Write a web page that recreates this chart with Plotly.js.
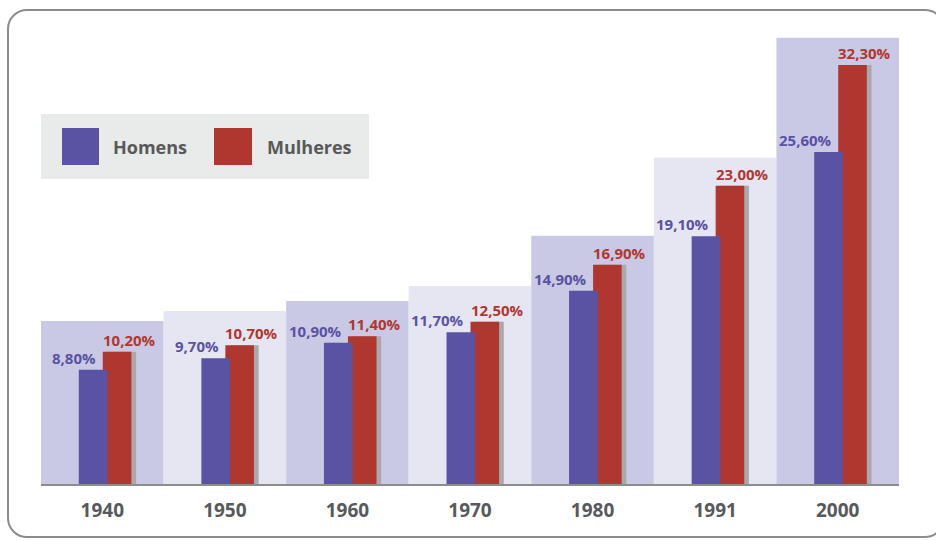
<!DOCTYPE html>
<html>
<head>
<meta charset="utf-8">
<script src="https://cdn.plot.ly/plotly-3.0.1.min.js"></script>
<style>
  html, body { margin: 0; padding: 0; background: #ffffff; overflow: hidden; }
  #wrap { position: relative; width: 936px; height: 541px; overflow: hidden; }
  #frame { position: absolute; left: 7px; top: 9px; width: 938px; height: 529px;
           border: 2px solid #8c8c8c; border-radius: 20px; box-sizing: border-box; pointer-events: none; }
  #chart { position: absolute; left: 0; top: 0; width: 936px; height: 541px; }
</style>
</head>
<body>
<div id="wrap">
  <div id="chart"></div>
  <div id="frame"></div>
</div>
<script>
// ---- data ----
const anos = ['1940', '1950', '1960', '1970', '1980', '1991', '2000'];
const homens = [8.8, 9.7, 10.9, 11.7, 14.9, 19.1, 25.6];
const mulheres = [10.2, 10.7, 11.4, 12.5, 16.9, 23.0, 32.3];
const faixa = [12.57, 13.34, 14.11, 15.27, 19.14, 25.16, 34.41];
const series = ['Homens', 'Mulheres'];

// ---- style ----
const W = 936, H = 541;
const M = { l: 41, r: 37, t: 20, b: 57 };
const pxCat = (W - M.l - M.r) / anos.length;
const plotH = H - M.t - M.b;
const pxUnit = 12.97;
const yMax = plotH / pxUnit;

const cBlue = '#5a52a2', cRed = '#b0372f', cShadow = '#a9a9ab';
const cDark = '#c9c9e6', cLight = '#e6e6f2';
const bw = 28.6 / pxCat;          // bar width in category units
const boBlue = -23.5 / pxCat;     // blue bar left edge offset
const boRed = 0.5 / pxCat;        // red bar left edge offset
const boShadow = boRed + 4.7 / pxCat;
const fontFam = '"Open Sans", "Noto Sans", sans-serif';

const fmt = v => v.toFixed(2).replace('.', ',') + '%';

const traces = [
  { type: 'bar', x: anos, y: faixa, width: 1, offset: -0.5,
    marker: { color: anos.map((_, i) => i % 2 === 0 ? cDark : cLight), line: { width: 0 } },
    showlegend: false, hoverinfo: 'skip' },
  { type: 'bar', x: anos, y: mulheres, width: bw, offset: boShadow,
    marker: { color: cShadow, line: { width: 0 } }, showlegend: false, hoverinfo: 'skip' },
  { type: 'bar', name: series[1], x: anos, y: mulheres, width: bw, offset: boRed,
    marker: { color: cRed, line: { width: 0 } }, showlegend: false },
  { type: 'bar', name: series[0], x: anos, y: homens, width: bw, offset: boBlue,
    marker: { color: cBlue, line: { width: 0 } }, showlegend: false }
];

const annotations = [];
anos.forEach((a, i) => {
  annotations.push({
    x: i, y: homens[i], xref: 'x', yref: 'y', text: fmt(homens[i]), showarrow: false,
    xanchor: 'right', yanchor: 'bottom', xshift: (boBlue + bw) * pxCat - 9, yshift: 0,
    font: { family: fontFam, size: 15, weight: 'bold', color: cBlue }
  });
  annotations.push({
    x: i, y: mulheres[i], xref: 'x', yref: 'y', text: fmt(mulheres[i]), showarrow: false,
    xanchor: 'left', yanchor: 'bottom', xshift: boRed * pxCat - 2, yshift: 0,
    font: { family: fontFam, size: 15, weight: 'bold', color: cRed }
  });
});

// legend drawn as shapes + text (pixel -> paper)
const plotW = W - M.l - M.r;
const px = v => (v - M.l) / plotW;
const py = v => (H - M.b - v) / plotH;
const shapes = [
  { type: 'rect', xref: 'paper', yref: 'paper', x0: px(41), x1: px(369), y0: py(179), y1: py(114),
    fillcolor: '#e9eaea', line: { width: 0 }, layer: 'above' },
  { type: 'rect', xref: 'paper', yref: 'paper', x0: px(62), x1: px(99), y0: py(165), y1: py(128),
    fillcolor: cBlue, line: { width: 0 }, layer: 'above' },
  { type: 'rect', xref: 'paper', yref: 'paper', x0: px(214), x1: px(252), y0: py(165), y1: py(128),
    fillcolor: cRed, line: { width: 0 }, layer: 'above' }
];
annotations.push({ xref: 'paper', yref: 'paper', x: px(111), y: py(147), xanchor: 'left', yanchor: 'middle',
  text: series[0], showarrow: false, font: { family: fontFam, size: 18, weight: 'bold', color: '#58595b' } });
annotations.push({ xref: 'paper', yref: 'paper', x: px(265), y: py(147), xanchor: 'left', yanchor: 'middle',
  text: series[1], showarrow: false, font: { family: fontFam, size: 18, weight: 'bold', color: '#58595b' } });

const layout = {
  width: W, height: H,
  margin: M,
  paper_bgcolor: 'rgba(0,0,0,0)', plot_bgcolor: 'rgba(0,0,0,0)',
  barmode: 'overlay',
  showlegend: false,
  xaxis: { type: 'category', range: [-0.5, anos.length - 0.5], showgrid: false, zeroline: false,
           showline: true, linecolor: '#8c8c8c', linewidth: 2, ticks: '', fixedrange: true,
           tickfont: { family: fontFam, size: 19, weight: 'bold', color: '#58595b' }, ticklabelstandoff: 8 },
  yaxis: { range: [0, yMax], showgrid: false, zeroline: false, showline: false, showticklabels: false,
           ticks: '', fixedrange: true },
  shapes: shapes,
  annotations: annotations
};

Plotly.newPlot('chart', traces, layout, { staticPlot: true, displayModeBar: false });
</script>
</body>
</html>
